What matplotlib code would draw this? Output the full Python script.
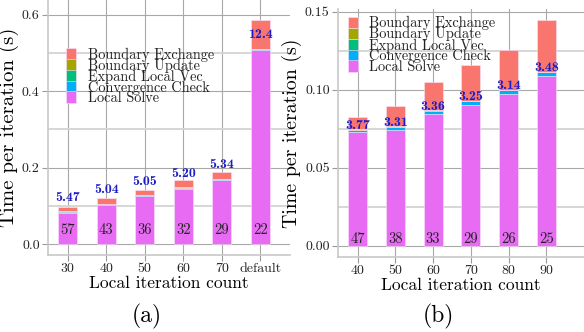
import matplotlib

matplotlib.use("Agg")
import matplotlib.pyplot as plt
import numpy as np
from matplotlib.ticker import MultipleLocator

plt.rcParams["font.family"] = ["cmr10", "DejaVu Serif"]
plt.rcParams["axes.unicode_minus"] = False
plt.rcParams["axes.formatter.use_mathtext"] = True

# ---- data ----
parts = ["Boundary Exchange", "Boundary Update", "Expand Local Vec",
         "Convergence Check", "Local Solve"]
colors = {"Boundary Exchange": "#F8766D", "Boundary Update": "#A3A500",
          "Expand Local Vec": "#00BF7D", "Convergence Check": "#00B0F6",
          "Local Solve": "#E76BF3"}

# (a) varying local iteration count, plus default
cats_a = ["30", "40", "50", "60", "70", "default"]
local_a = [0.083, 0.103, 0.125, 0.145, 0.167, 0.507]
conv_a = [0.0025, 0.0025, 0.0025, 0.0028, 0.0028, 0.003]
expand_a = [0.0004, 0.0004, 0.0004, 0.0004, 0.0004, 0.0004]
update_a = [0.0003, 0.0003, 0.0003, 0.0003, 0.0003, 0.0003]
exch_a = [0.0118, 0.0138, 0.0148, 0.0185, 0.0195, 0.0763]
speedup_a = ["5.47", "5.04", "5.05", "5.20", "5.34", "12.4"]
iters_a = [57, 43, 36, 32, 29, 22]

# (b)
cats_b = ["40", "50", "60", "70", "80", "90"]
local_b = [0.0726, 0.0742, 0.0843, 0.0903, 0.0974, 0.1090]
conv_b = [0.0016, 0.0020, 0.0022, 0.0022, 0.0022, 0.0022]
expand_b = [0.0002, 0.0002, 0.0002, 0.0002, 0.0002, 0.0002]
update_b = [0.0002, 0.0002, 0.0002, 0.0002, 0.0002, 0.0002]
exch_b = [0.0076, 0.0127, 0.0179, 0.0230, 0.0256, 0.0331]
speedup_b = ["3.77", "3.31", "3.36", "3.25", "3.14", "3.48"]
iters_b = [47, 38, 33, 29, 26, 25]


def draw(ax, cats, local, conv, expand, update, exch, speedup, iters,
         ylim, xlim, major, minor, lab_off, cnt_y, yfmt, leg_anchor, ylab_fs):
    x = np.arange(len(cats))
    stack = [("Local Solve", local), ("Convergence Check", conv),
             ("Expand Local Vec", expand), ("Boundary Update", update),
             ("Boundary Exchange", exch)]
    bottom = np.zeros(len(cats))
    handles = {}
    for name, vals in stack:
        vals = np.asarray(vals)
        h = ax.bar(x, vals, 0.5, bottom=bottom, color=colors[name],
                   edgecolor="#fbe3fb", linewidth=0.4, zorder=3)
        handles[name] = h
        bottom = bottom + vals

    base = np.asarray(local) + np.asarray(conv)
    for xi, b, s, n in zip(x, base, speedup, iters):
        ax.text(xi, b + lab_off, s, ha="center", va="center", color="#1c1cc8",
                fontsize=10, family="cmb10", zorder=5)
        ax.text(xi, cnt_y, str(n), ha="center", va="center", color="#222222",
                fontsize=10.5, zorder=5)

    ax.set_xticks(x)
    ax.set_xticklabels(cats)
    ax.set_xlim(*xlim)
    ax.set_ylim(*ylim)
    ax.yaxis.set_major_locator(MultipleLocator(major))
    ax.yaxis.set_minor_locator(MultipleLocator(minor))
    ax.yaxis.set_major_formatter(plt.FormatStrFormatter(yfmt))
    ax.grid(True, which="major", color="#a8a8a8", linewidth=0.8, zorder=0)
    ax.grid(True, which="minor", axis="y", color="#d6d6d6", linewidth=1.4,
            zorder=0)
    ax.set_axisbelow(True)
    for side in ("top", "right"):
        ax.spines[side].set_visible(False)
    for side in ("left", "bottom"):
        ax.spines[side].set_color("#c8c8c8")
        ax.spines[side].set_linewidth(1.2)
    ax.tick_params(which="major", length=4, color="#999999", labelsize=10,
                   pad=2, labelcolor="#222222")
    ax.tick_params(which="minor", length=0)
    ax.set_xlabel("Local iteration count", fontsize=12.5, labelpad=0)
    ax.set_ylabel("Time per iteration (s)", fontsize=ylab_fs, labelpad=2)

    leg = ax.legend([handles[p] for p in parts], parts, loc="upper left",
                    bbox_to_anchor=leg_anchor, frameon=False, fontsize=10.3,
                    handlelength=0.7, handleheight=0.9, handletextpad=0.8,
                    labelspacing=-0.22, borderpad=0, borderaxespad=0)
    for t in leg.get_texts():
        t.set_color("#222222")


fig = plt.figure(figsize=(5.84, 3.32), dpi=100)
ax_a = fig.add_axes([48 / 584, 77 / 332, 242 / 584, 255 / 332])
ax_b = fig.add_axes([338 / 584, 75 / 332, 246 / 584, 248 / 332])

draw(ax_a, cats_a, local_a, conv_a, expand_a, update_a, exch_a, speedup_a,
     iters_a, ylim=(-0.028, 0.638), xlim=(-0.51, 5.77), major=0.2, minor=0.1,
     lab_off=0.036, cnt_y=0.037, yfmt="%.1f", leg_anchor=(0.075, 0.814),
     ylab_fs=15)
draw(ax_b, cats_b, local_b, conv_b, expand_b, update_b, exch_b, speedup_b,
     iters_b, ylim=(-0.0072, 0.1517), xlim=(-0.52, 6.0), major=0.05,
     minor=0.025, lab_off=0.0025, cnt_y=0.0045, yfmt="%.2f",
     leg_anchor=(0.04, 0.971), ylab_fs=14.3)

fig.text(146.7 / 584, 1 - 316 / 332, "(a)", ha="center", va="center",
         fontsize=17)
fig.text(438 / 584, 1 - 316 / 332, "(b)", ha="center", va="center",
         fontsize=17)

fig.savefig("out.png", dpi=100)
